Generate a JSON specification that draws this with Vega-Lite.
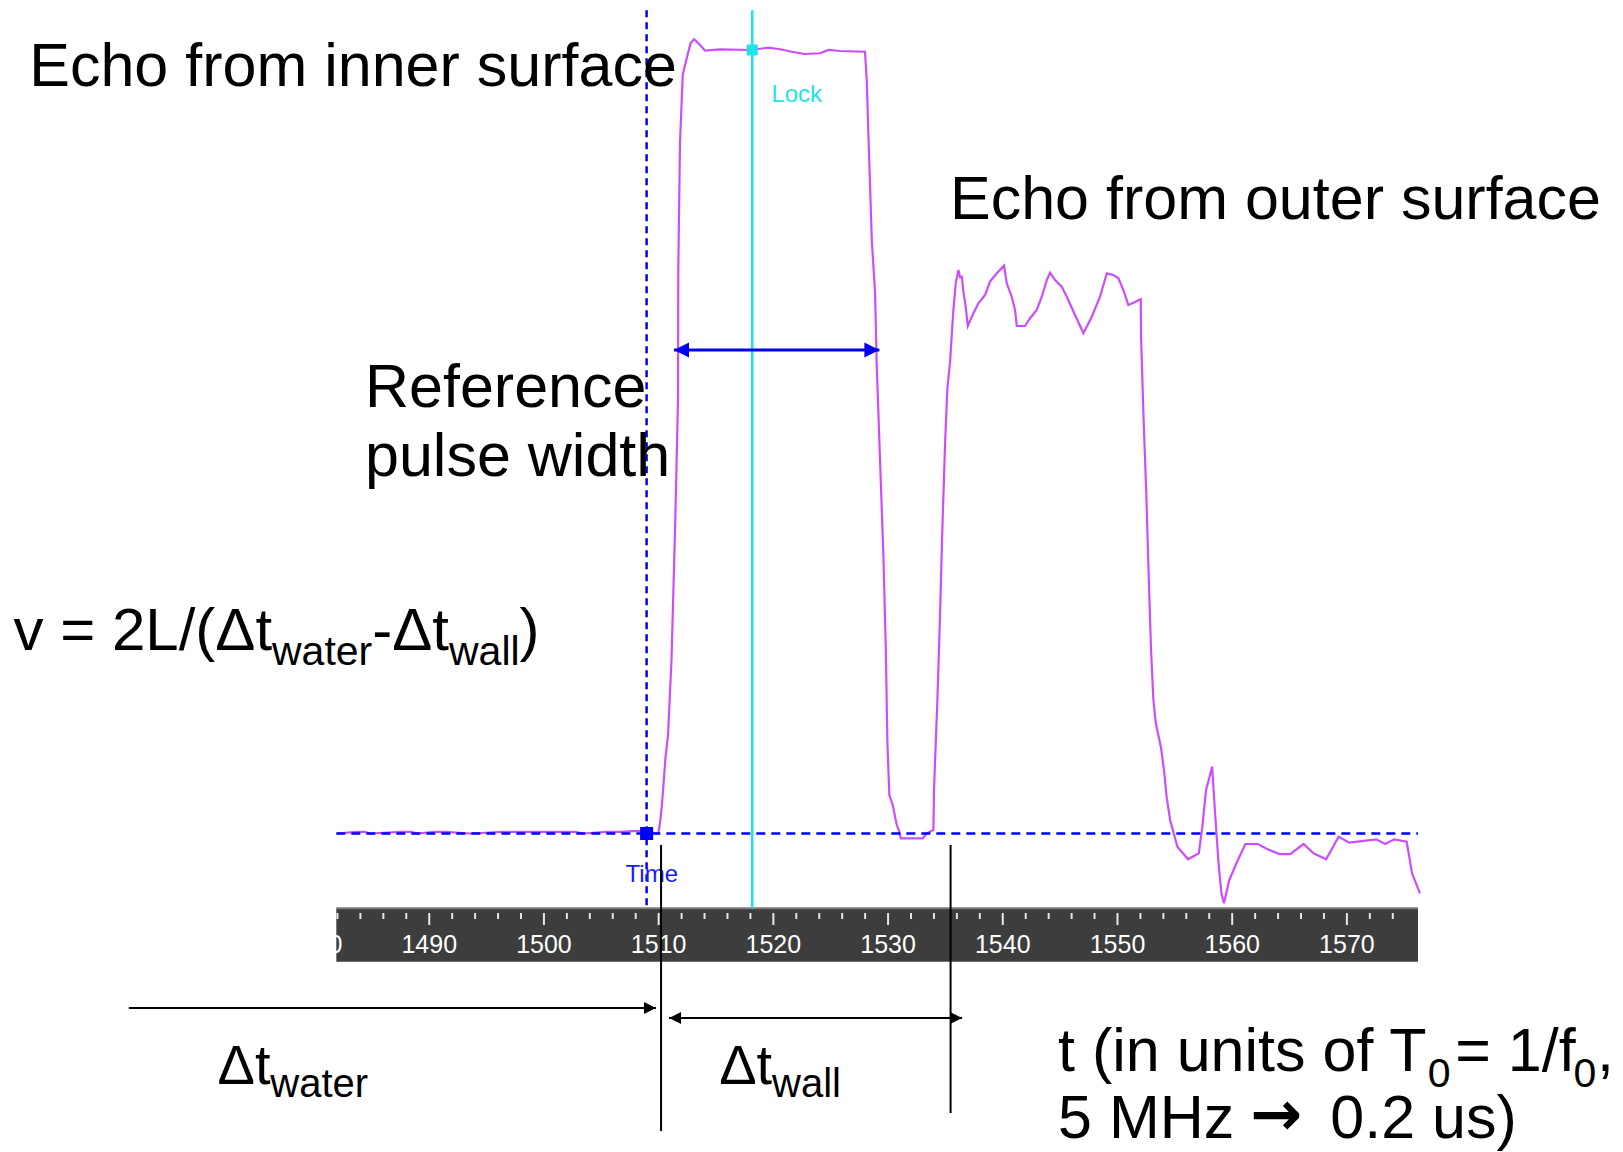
{
  "$schema": "https://vega.github.io/schema/vega-lite/v6.json",
  "width": 1623,
  "height": 1152,
  "autosize": {"type": "fit", "contains": "padding"},
  "padding": 0,
  "background": "white",
  "config": {"view": {"stroke": null}, "axis": {"disable": true}},
  "encoding": {
    "x": {"field": "t", "type": "quantitative", "scale": {"domain": [1452.58, 1594.07], "nice": false, "zero": false}, "axis": null}
  },
  "layer": [
    {
      "data": {"values": [{"t": 1481.9, "t2": 1576.2, "a": -9.55, "a2": -16.36}]},
      "mark": {"type": "rect", "color": "#3d3d3d"},
      "encoding": {
        "y": {"field": "a", "type": "quantitative", "scale": {"domain": [-40.65, 106.38], "nice": false, "zero": false}, "axis": null},
        "x2": {"field": "t2"}, "y2": {"field": "a2"}
      }
    },
    {
      "data": {"values": [{"t": 1481.9, "t2": 1576.2, "a": -9.55}]},
      "mark": {"type": "rule", "color": "#7a7a7a", "strokeWidth": 2},
      "encoding": {
        "y": {"field": "a", "type": "quantitative", "scale": {"domain": [-40.65, 106.38], "nice": false, "zero": false}, "axis": null},
        "x2": {"field": "t2"}
      }
    },
    {
      "data": {"values": [{"t":1482},{"t":1484},{"t":1486},{"t":1488},{"t":1492},{"t":1494},{"t":1496},{"t":1498},{"t":1502},{"t":1504},{"t":1506},{"t":1508},{"t":1512},{"t":1514},{"t":1516},{"t":1518},{"t":1522},{"t":1524},{"t":1526},{"t":1528},{"t":1532},{"t":1534},{"t":1536},{"t":1538},{"t":1542},{"t":1544},{"t":1546},{"t":1548},{"t":1552},{"t":1554},{"t":1556},{"t":1558},{"t":1562},{"t":1564},{"t":1566},{"t":1568},{"t":1572},{"t":1574}]},
      "mark": {"type": "rule", "color": "#e6e6e6", "strokeWidth": 2},
      "encoding": {"y": {"datum": -10.15, "type": "quantitative", "axis": null}, "y2": {"datum": -10.91}}
    },
    {
      "data": {"values": [{"t":1490},{"t":1500},{"t":1510},{"t":1520},{"t":1530},{"t":1540},{"t":1550},{"t":1560},{"t":1570}]},
      "mark": {"type": "rule", "color": "#e6e6e6", "strokeWidth": 2},
      "encoding": {"y": {"datum": -10.15, "type": "quantitative", "axis": null}, "y2": {"datum": -11.68}}
    },
    {
      "data": {"values": [{"t":1480,"label":"1480"},{"t":1490,"label":"1490"},{"t":1500,"label":"1500"},{"t":1510,"label":"1510"},{"t":1520,"label":"1520"},{"t":1530,"label":"1530"},{"t":1540,"label":"1540"},{"t":1550,"label":"1550"},{"t":1560,"label":"1560"},{"t":1570,"label":"1570"}]},
      "mark": {"type": "text", "font": "Liberation Sans", "fontSize": 25, "color": "#ffffff", "align": "center", "baseline": "alphabetic"},
      "encoding": {"y": {"datum": -15.21, "type": "quantitative", "axis": null}, "text": {"field": "label"}}
    },
    {
      "data": {"values": [
        {"t":1481.94,"a":0},{"t":1483.68,"a":0.2},{"t":1484.40,"a":0.2},{"t":1484.84,"a":0},{"t":1487.60,"a":0.2},{"t":1488.47,"a":0.2},{"t":1488.91,"a":0},{"t":1490.51,"a":0.2},{"t":1491.38,"a":0.2},{"t":1493.56,"a":0},{"t":1496.46,"a":0.2},{"t":1501.40,"a":0.2},{"t":1502.71,"a":0.2},{"t":1503.44,"a":0},{"t":1505.48,"a":0.2},{"t":1506.63,"a":0.2},{"t":1507.65,"a":0.3},{"t":1508.53,"a":0.3},{"t":1509.97,"a":0},
        {"t":1510.12,"a":1.34},{"t":1510.30,"a":3.89},{"t":1510.47,"a":7.21},{"t":1510.60,"a":9.76},{"t":1510.82,"a":12.57},{"t":1511.12,"a":22.14},{"t":1511.43,"a":38.74},{"t":1511.69,"a":55.58},{"t":1511.71,"a":71.7},{"t":1511.86,"a":88.13},{"t":1512.10,"a":96.81},{"t":1512.30,"a":98.09},{"t":1512.59,"a":99.78},{"t":1512.80,"a":100.93},{"t":1513.09,"a":101.37},{"t":1513.46,"a":100.86},{"t":1514.05,"a":99.91},{"t":1515.35,"a":100.09},{"t":1517.97,"a":100.0},{"t":1519.56,"a":100.29},{"t":1520.58,"a":100.09},{"t":1521.60,"a":99.78},{"t":1522.76,"a":99.49},{"t":1524.07,"a":99.58},{"t":1524.80,"a":100.0},{"t":1525.81,"a":99.87},{"t":1527.99,"a":99.78},
        {"t":1528.14,"a":96.17},{"t":1528.28,"a":89.37},{"t":1528.43,"a":82.77},{"t":1528.58,"a":75.74},{"t":1528.87,"a":68.95},{"t":1529.01,"a":59.80},{"t":1529.30,"a":47.67},{"t":1529.59,"a":35.55},{"t":1529.80,"a":23.84},{"t":1529.94,"a":11.72},{"t":1530.11,"a":4.91},{"t":1530.41,"a":3.64},{"t":1530.61,"a":2.14},{"t":1530.76,"a":1.08},{"t":1530.99,"a":0.23},{"t":1531.11,"a":-0.61},{"t":1533.03,"a":-0.61},{"t":1533.37,"a":0.03},{"t":1533.95,"a":0.45},
        {"t":1534.01,"a":5.77},{"t":1534.30,"a":17.04},{"t":1534.53,"a":27.89},{"t":1534.73,"a":38.74},{"t":1534.97,"a":49.80},{"t":1535.17,"a":56.82},{"t":1535.41,"a":60.22},{"t":1535.55,"a":63.62},{"t":1535.69,"a":66.73},{"t":1535.90,"a":70.22},{"t":1536.13,"a":71.92},{"t":1536.28,"a":70.99},{"t":1536.43,"a":71.07},{"t":1536.57,"a":69.15},{"t":1536.77,"a":67.24},{"t":1536.95,"a":64.77},{"t":1537.30,"a":65.96},{"t":1537.87,"a":67.67},{"t":1538.46,"a":68.73},{"t":1538.89,"a":70.43},{"t":1539.48,"a":71.50},{"t":1540.11,"a":72.47},{"t":1540.35,"a":70.22},{"t":1540.78,"a":68.51},{"t":1541.07,"a":66.82},{"t":1541.22,"a":64.77},{"t":1541.94,"a":64.77},{"t":1542.38,"a":65.76},{"t":1542.96,"a":66.82},{"t":1543.40,"a":68.51},{"t":1543.84,"a":70.64},{"t":1544.12,"a":71.58},{"t":1544.56,"a":70.64},{"t":1545.14,"a":69.79},{"t":1545.58,"a":68.51},{"t":1546.30,"a":66.18},{"t":1547.03,"a":63.84},{"t":1547.76,"a":65.96},{"t":1548.48,"a":68.51},{"t":1549.07,"a":71.50},{"t":1549.64,"a":71.28},{"t":1550.08,"a":70.86},{"t":1550.51,"a":69.37},{"t":1550.95,"a":67.45},{"t":1551.39,"a":67.75},{"t":1552.03,"a":68.18},
        {"t":1552.06,"a":63.20},{"t":1552.27,"a":53.20},{"t":1552.51,"a":43.42},{"t":1552.71,"a":33.41},{"t":1552.92,"a":23.64},{"t":1553.13,"a":17.04},{"t":1553.34,"a":14.10},{"t":1553.80,"a":10.91},{"t":1554.07,"a":7.89},{"t":1554.28,"a":4.70},{"t":1554.59,"a":1.72},{"t":1554.90,"a":0.03},{"t":1555.22,"a":-1.68},{"t":1556.16,"a":-3.29},{"t":1557.09,"a":-2.53},{"t":1557.40,"a":0.87},{"t":1557.72,"a":5.55},{"t":1558.03,"a":7.25},{"t":1558.25,"a":8.53},{"t":1558.49,"a":3.00},{"t":1558.81,"a":-3.80},{"t":1559.06,"a":-7.63},{"t":1559.28,"a":-8.91},{"t":1559.75,"a":-5.93},{"t":1560.37,"a":-3.80},{"t":1561.15,"a":-1.34},{"t":1562.24,"a":-1.34},{"t":1563.03,"a":-1.98},{"t":1564.12,"a":-2.62},{"t":1565.06,"a":-2.62},{"t":1566.22,"a":-1.34},{"t":1567.09,"a":-2.53},{"t":1568.19,"a":-3.29},{"t":1569.28,"a":-0.41},{"t":1570.21,"a":-1.17},{"t":1572.56,"a":-0.74},{"t":1573.33,"a":-1.34},{"t":1574.12,"a":-0.74},{"t":1575.21,"a":-1.05},{"t":1575.68,"a":-5.08},{"t":1576.37,"a":-7.63}
      ]},
      "mark": {"type": "line", "color": "#cc4dff", "strokeWidth": 2.2},
      "encoding": {"y": {"field": "a", "type": "quantitative", "scale": {"domain": [-40.65, 106.38], "nice": false, "zero": false}, "axis": null}}
    },
    {
      "data": {"values": [{"t": 1481.9, "t2": 1576.2, "a": 0}]},
      "mark": {"type": "rule", "color": "#0000ff", "strokeWidth": 2.5, "strokeDash": [9, 6]},
      "encoding": {"y": {"field": "a", "type": "quantitative", "axis": null}, "x2": {"field": "t2"}}
    },
    {
      "data": {"values": [{"t": 1508.95, "a": 105.06, "a2": -9.55}]},
      "mark": {"type": "rule", "color": "#0000ff", "strokeWidth": 2.5, "strokeDash": [7, 5]},
      "encoding": {"y": {"field": "a", "type": "quantitative", "axis": null}, "y2": {"field": "a2"}}
    },
    {
      "data": {"values": [{"t": 1518.16, "a": 105.06, "a2": -9.55}]},
      "mark": {"type": "rule", "color": "#1ee3e8", "strokeWidth": 2.5},
      "encoding": {"y": {"field": "a", "type": "quantitative", "axis": null}, "y2": {"field": "a2"}}
    },
    {
      "data": {"values": [{"t": 1508.95, "a": 0}]},
      "mark": {"type": "point", "shape": "square", "filled": true, "size": 170, "color": "#0000ff", "opacity": 1},
      "encoding": {"y": {"field": "a", "type": "quantitative", "axis": null}}
    },
    {
      "data": {"values": [{"t": 1518.16, "a": 100}]},
      "mark": {"type": "point", "shape": "square", "filled": true, "size": 121, "color": "#1ee3e8", "opacity": 1},
      "encoding": {"y": {"field": "a", "type": "quantitative", "axis": null}}
    },
    {
      "data": {"values": [{"t": 1509.4, "a": -6.19, "label": "Time"}]},
      "mark": {"type": "text", "font": "Liberation Sans", "fontSize": 24, "color": "#1a1aff", "align": "center", "baseline": "alphabetic"},
      "encoding": {"y": {"field": "a", "type": "quantitative", "axis": null}, "text": {"field": "label"}}
    },
    {
      "data": {"values": [{"t": 1522.04, "a": 93.36, "label": "Lock"}]},
      "mark": {"type": "text", "font": "Liberation Sans", "fontSize": 24, "color": "#1ee3e8", "align": "center", "baseline": "alphabetic"},
      "encoding": {"y": {"field": "a", "type": "quantitative", "axis": null}, "text": {"field": "label"}}
    },
    {
      "data": {"values": [{"t": 1511.34, "t2": 1529.24, "a": 61.71}]},
      "mark": {"type": "rule", "color": "#0000ee", "strokeWidth": 3},
      "encoding": {"y": {"field": "a", "type": "quantitative", "axis": null}, "x2": {"field": "t2"}}
    },
    {
      "data": {"values": [{"t": 1511.34, "a": 61.71, "dir": "L"}, {"t": 1529.24, "a": 61.71, "dir": "R"}]},
      "mark": {"type": "point", "filled": true, "size": 900, "color": "#0000ee", "opacity": 1, "strokeWidth": 0},
      "encoding": {
        "y": {"field": "a", "type": "quantitative", "axis": null},
        "shape": {"field": "dir", "type": "nominal", "scale": {"domain": ["L", "R"], "range": ["M0,0L1,-0.5L1,0.5Z", "M0,0L-1,-0.5L-1,0.5Z"]}, "legend": null}
      }
    },
    {
      "data": {"values": [{"t": 1463.81, "t2": 1509.77, "a": -22.27}, {"t": 1510.91, "t2": 1536.45, "a": -23.55}]},
      "mark": {"type": "rule", "color": "black", "strokeWidth": 2.2},
      "encoding": {"y": {"field": "a", "type": "quantitative", "axis": null}, "x2": {"field": "t2"}}
    },
    {
      "data": {"values": [{"t": 1509.77, "a": -22.27, "dir": "R"}, {"t": 1510.91, "a": -23.55, "dir": "L"}, {"t": 1536.45, "a": -23.55, "dir": "R"}]},
      "mark": {"type": "point", "filled": true, "size": 576, "color": "black", "opacity": 1, "strokeWidth": 0},
      "encoding": {
        "y": {"field": "a", "type": "quantitative", "axis": null},
        "shape": {"field": "dir", "type": "nominal", "scale": {"domain": ["L", "R"], "range": ["M0,0L1,-0.55L1,0.55Z", "M0,0L-1,-0.55L-1,0.55Z"]}, "legend": null}
      }
    },
    {
      "data": {"values": [{"t": 1510.21, "a": -1.47, "a2": -37.97}, {"t": 1535.45, "a": -1.47, "a2": -35.67}]},
      "mark": {"type": "rule", "color": "black", "strokeWidth": 2},
      "encoding": {"y": {"field": "a", "type": "quantitative", "axis": null}, "y2": {"field": "a2"}}
    },
    {
      "data": {"values": [
        {"t": 1455.13, "a": 95.41, "label": "Echo from inner surface"},
        {"t": 1535.40, "a": 78.37, "label": "Echo from outer surface"},
        {"t": 1484.40, "a": 54.44, "label": "Reference"},
        {"t": 1484.40, "a": 45.63, "label": "pulse width"}
      ]},
      "mark": {"type": "text", "font": "Liberation Sans, Arial, sans-serif", "fontSize": 61, "color": "black", "align": "left", "baseline": "alphabetic"},
      "encoding": {"y": {"field": "a", "type": "quantitative", "axis": null}, "text": {"field": "label"}}
    },
    {
      "data": {"values": [
        {"t": 1544.82, "a": -30.31, "label": "t (in units of T"},
        {"t": 1579.45, "a": -30.31, "label": "= 1/f"},
        {"t": 1591.80, "a": -30.31, "label": ","},
        {"t": 1544.82, "a": -38.86, "label": "5 MHz"},
        {"t": 1568.55, "a": -38.86, "label": "0.2 us)"}
      ]},
      "mark": {"type": "text", "font": "Liberation Sans, Arial, sans-serif", "fontSize": 61, "color": "black", "align": "left", "baseline": "alphabetic"},
      "encoding": {"y": {"field": "a", "type": "quantitative", "axis": null}, "text": {"field": "label"}}
    },
    {
      "data": {"values": [{"t": 1561.57, "a": -38.5, "label": "→"}]},
      "mark": {"type": "text", "font": "DejaVu Sans", "fontWeight": "bold", "fontSize": 62, "color": "black", "align": "left", "baseline": "alphabetic"},
      "encoding": {"y": {"field": "a", "type": "quantitative", "axis": null}, "text": {"field": "label"}}
    },
    {
      "data": {"values": [
        {"t": 1453.76, "a": 23.42, "label": "v = 2L/(Δt"},
        {"t": 1485.03, "a": 23.42, "label": "-Δt"},
        {"t": 1497.87, "a": 23.42, "label": ")"}
      ]},
      "mark": {"type": "text", "font": "Liberation Sans, Arial, sans-serif", "fontSize": 60, "color": "black", "align": "left", "baseline": "alphabetic"},
      "encoding": {"y": {"field": "a", "type": "quantitative", "axis": null}, "text": {"field": "label"}}
    },
    {
      "data": {"values": [
        {"t": 1476.29, "a": 21.51, "label": "water"},
        {"t": 1491.72, "a": 21.51, "label": "wall"},
        {"t": 1577.04, "a": -32.36, "label": "0"},
        {"t": 1589.75, "a": -32.36, "label": "0"}
      ]},
      "mark": {"type": "text", "font": "Liberation Sans, Arial, sans-serif", "fontSize": 41, "color": "black", "align": "left", "baseline": "alphabetic"},
      "encoding": {"y": {"field": "a", "type": "quantitative", "axis": null}, "text": {"field": "label"}}
    },
    {
      "data": {"values": [
        {"t": 1471.54, "a": -31.97, "label": "Δt"},
        {"t": 1515.28, "a": -31.97, "label": "Δt"}
      ]},
      "mark": {"type": "text", "font": "Liberation Sans, Arial, sans-serif", "fontSize": 56, "color": "black", "align": "left", "baseline": "alphabetic"},
      "encoding": {"y": {"field": "a", "type": "quantitative", "axis": null}, "text": {"field": "label"}}
    },
    {
      "data": {"values": [
        {"t": 1476.15, "a": -33.63, "label": "water"},
        {"t": 1519.89, "a": -33.63, "label": "wall"}
      ]},
      "mark": {"type": "text", "font": "Liberation Sans, Arial, sans-serif", "fontSize": 40, "color": "black", "align": "left", "baseline": "alphabetic"},
      "encoding": {"y": {"field": "a", "type": "quantitative", "axis": null}, "text": {"field": "label"}}
    }
  ]
}
